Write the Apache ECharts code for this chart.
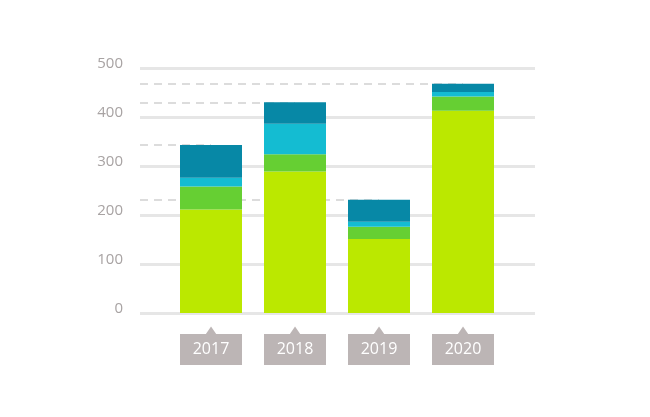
<!DOCTYPE html>
<html><head><meta charset="utf-8">
<script src="https://cdn.jsdelivr.net/npm/echarts@6/dist/echarts.min.js"></script>
<style>html,body{margin:0;padding:0;background:#fff}#c{width:650px;height:417px}</style>
</head><body><div id="c"></div>
<script>
const categories = ['2017', '2018', '2019', '2020'];
const seriesA = [211, 289, 151, 413];
const seriesB = [47, 35, 25, 29];
const seriesC = [18, 62, 10, 9];
const seriesD = [67, 44, 45, 17];
const yTicks = [0, 100, 200, 300, 400, 500];

const totals = categories.map((c, i) => seriesA[i] + seriesB[i] + seriesC[i] + seriesD[i]);
const colors = ['#bbe800', '#66cf33', '#14bcd2', '#0788a6'];
const font = '"Open Sans", "Noto Sans", sans-serif';

const chart = echarts.init(document.getElementById('c'));
const mkSeries = (name, data, idx) => ({
  name, type: 'bar', stack: 'total', data, barWidth: 62,
  xAxisIndex: 0, yAxisIndex: 0,
  itemStyle: { color: colors[idx] }, z: 3
});
const series = [
  mkSeries('A', seriesA, 0),
  mkSeries('B', seriesB, 1),
  mkSeries('C', seriesC, 2),
  mkSeries('D', seriesD, 3)
];
series[3].markLine = {
  silent: true, symbol: 'none', z: 1, animation: false,
  label: { show: false },
  lineStyle: { color: '#dcdcdc', type: [8, 6], width: 2 },
  data: categories.map((c, i) => [{ x: 140, yAxis: totals[i] }, { xAxis: c, yAxis: totals[i] }])
};
series.push({
  type: 'custom', xAxisIndex: 0, yAxisIndex: 0, clip: false, silent: true, z: 4,
  data: categories.map((c, i) => [i, 0]),
  renderItem: function (params, api) {
    const p = api.coord([api.value(0), 0]);
    return {
      type: 'polygon',
      shape: { points: [[p[0] - 5.5, p[1] + 21.5], [p[0], p[1] + 13.5], [p[0] + 5.5, p[1] + 21.5]] },
      style: { fill: '#bcb5b5' }
    };
  }
});

chart.setOption({
  animation: false,
  grid: [
    { left: 169, right: 145, top: 68, bottom: 104 },
    { left: 140, right: 115, top: 68, bottom: 104 }
  ],
  xAxis: [
    { type: 'category', gridIndex: 0, data: categories,
      axisLine: { show: false }, axisTick: { show: false },
      axisLabel: { margin: 21, formatter: '{b|{value}}',
        rich: { b: { width: 62, height: 31, lineHeight: 31, align: 'center', backgroundColor: '#bcb5b5',
          color: '#ffffff', fontSize: 16, fontFamily: font } } } },
    { type: 'value', gridIndex: 1, min: 0, max: 1, show: false }
  ],
  yAxis: [
    { type: 'value', gridIndex: 0, min: 0, max: 500, interval: 100, show: false, splitLine: { show: false } },
    { type: 'value', gridIndex: 1, min: yTicks[0], max: yTicks[yTicks.length - 1], interval: 100,
      axisLine: { show: false }, axisTick: { show: false },
      axisLabel: { color: '#a8a3a3', fontSize: 15, fontFamily: font, margin: 17,
        verticalAlign: 'bottom', lineHeight: 9 },
      splitLine: { lineStyle: { color: '#e6e6e6', width: 3 } } }
  ],
  series
});
</script></body></html>
